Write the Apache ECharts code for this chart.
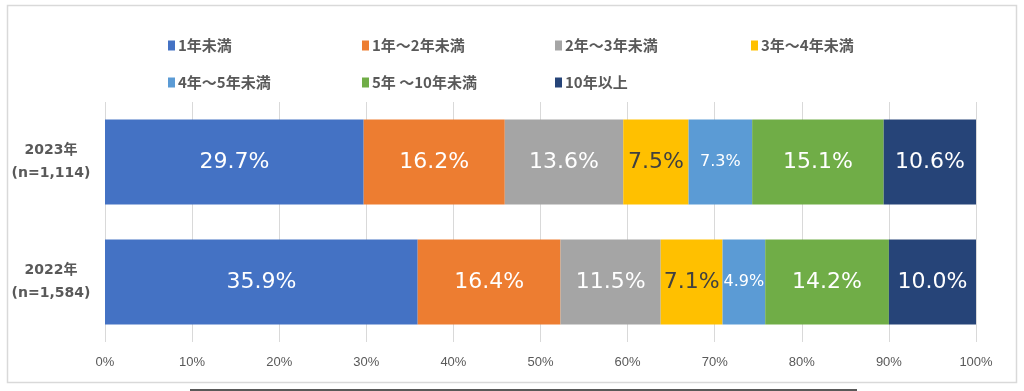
<!DOCTYPE html>
<html><head><meta charset="utf-8">
<script src="https://cdn.jsdelivr.net/npm/echarts@6/dist/echarts.min.js"></script>
<style>html,body{margin:0;padding:0;background:#fff}#c{width:1024px;height:391px}</style>
</head><body><div id="c"></div>
<script>
const categories = ['2023年\n(n=1,114)', '2022年\n(n=1,584)'];
const seriesNames = ['1年未満', '1年～2年未満', '2年～3年未満', '3年～4年未満', '4年～5年未満', '5年 ～10年未満', '10年以上'];
const lt1 = [29.7, 35.9];
const y1to2 = [16.2, 16.4];
const y2to3 = [13.6, 11.5];
const y3to4 = [7.5, 7.1];
const y4to5 = [7.3, 4.9];
const y5to10 = [15.1, 14.2];
const y10plus = [10.6, 10.0];
const xTicks = [0, 10, 20, 30, 40, 50, 60, 70, 80, 90, 100];

const values = [lt1, y1to2, y2to3, y3to4, y4to5, y5to10, y10plus];
const colors = ['#4472C4', '#ED7D31', '#A5A5A5', '#FFC000', '#5B9BD5', '#70AD47', '#264478'];
const labelColors = ['#fff', '#fff', '#fff', '#404040', '#fff', '#fff', '#fff'];
const labelSizes = [22, 22, 22, 22, 16, 22, 22];
const legendPos = [[163, 43], [357, 43], [550, 43], [746, 43], [163, 80], [357, 80], [550, 80]];
const font = '"DejaVu Sans", "Noto Sans CJK JP", sans-serif';

const chart = echarts.init(document.getElementById('c'), null, {renderer: 'canvas'});
chart.setOption({
  animation: false,
  textStyle: {fontFamily: font},
  grid: {left: 105, right: 48, top: 102, height: 240},
  legend: seriesNames.map((n, i) => ({
    data: [n], left: legendPos[i][0], top: legendPos[i][1] - 10,
    itemWidth: 7, itemHeight: 10, itemGap: 4,
    textStyle: {fontSize: 15, fontWeight: 'bold', color: '#595959', fontFamily: '"Noto Sans CJK JP", sans-serif', padding: [0, 0, 0, -2]},
    icon: 'rect', selectedMode: false
  })),
  xAxis: {
    type: 'value', min: 0, max: 100, interval: 10,
    axisLine: {show: false}, axisTick: {show: false},
    splitLine: {lineStyle: {color: '#d9d9d9', width: 1}},
    axisLabel: {formatter: v => xTicks.includes(v) ? v + '%' : '', fontSize: 13, color: '#595959', margin: 14, fontFamily: '"Liberation Sans Narrow", "Liberation Sans", sans-serif'}
  },
  yAxis: {
    type: 'category', data: categories, inverse: true,
    axisLine: {show: false}, axisTick: {show: false},
    axisLabel: {fontSize: 14, fontWeight: 'bold', color: '#595959', align: 'center', margin: 54, lineHeight: 23, fontFamily: '"DejaVu Sans", "Noto Sans CJK JP", sans-serif'}
  },
  series: seriesNames.map((n, i) => ({
    name: n, type: 'bar', stack: 'total', data: values[i], barWidth: 85,
    itemStyle: {color: colors[i]},
    label: {show: true, position: 'inside', formatter: p => p.value.toFixed(1) + '%', color: labelColors[i], fontSize: labelSizes[i], fontFamily: '"DejaVu Sans", sans-serif'}
  })),
  graphic: [
    {type: 'rect', shape: {x: 7.5, y: 5.5, width: 1009, height: 377}, style: {fill: null, stroke: '#d9d9d9', lineWidth: 1.5}, silent: true},
    {type: 'line', shape: {x1: 190, y1: 390, x2: 857, y2: 390}, style: {stroke: '#595959', lineWidth: 2}, silent: true}
  ]
});
</script></body></html>
